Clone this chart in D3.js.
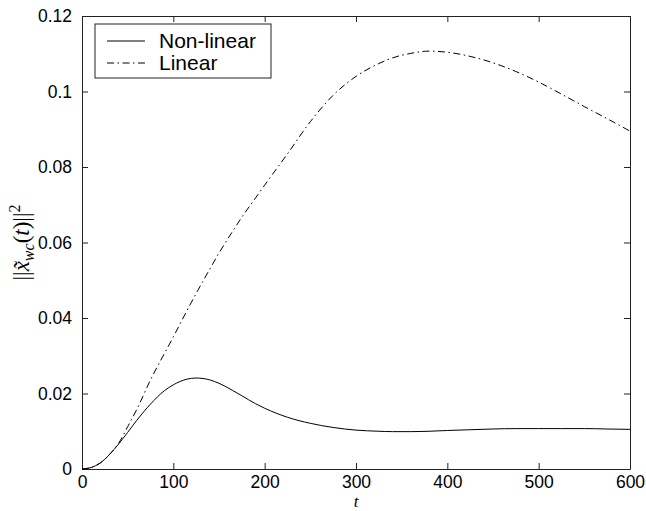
<!DOCTYPE html>
<html>
<head>
<meta charset="utf-8">
<script src="https://cdn.jsdelivr.net/npm/d3@7"></script>
<style>
  body { margin: 0; background: #fff; }
  svg { display: block; }
</style>
</head>
<body>
<script>
// time samples and the two response curves
var tValues = [0, 10, 20, 30, 40, 50, 60, 75, 90, 100, 115, 125, 140, 150, 165, 175, 190, 200, 225, 250, 275, 300, 325, 340, 360, 380, 400, 425, 450, 475, 500, 525, 550, 575, 600];
var nonLinear = [0, 0.0004, 0.0016, 0.0038, 0.0066, 0.0097, 0.0129, 0.0172, 0.0207, 0.0223, 0.0238, 0.0241, 0.0236, 0.0227, 0.0208, 0.0194, 0.0173, 0.0161, 0.0137, 0.0121, 0.0110, 0.0103, 0.0100, 0.0099, 0.0099, 0.0100, 0.0102, 0.0104, 0.0106, 0.0107, 0.0107, 0.0107, 0.0107, 0.0106, 0.0105];
var linear = [0, 0.0004, 0.0016, 0.0038, 0.0068, 0.0112, 0.0158, 0.0236, 0.0305, 0.0350, 0.0420, 0.0465, 0.0530, 0.0572, 0.0630, 0.0667, 0.0718, 0.0752, 0.0835, 0.0920, 0.0990, 0.1040, 0.1074, 0.1089, 0.1101, 0.1107, 0.1104, 0.1093, 0.1076, 0.1053, 0.1025, 0.0993, 0.0960, 0.0928, 0.0895];

var xTicks = [0, 100, 200, 300, 400, 500, 600];
var yTicks = [0, 0.02, 0.04, 0.06, 0.08, 0.1, 0.12];
var seriesNames = ["Non-linear", "Linear"];

var W = 646, H = 511;
var margin = { top: 16, right: 16, bottom: 42, left: 82 };
var width = W - margin.left - margin.right,
    height = H - margin.top - margin.bottom;

var svg = d3.select("body").append("svg")
    .attr("width", W)
    .attr("height", H);

var g = svg.append("g")
    .attr("transform", "translate(" + margin.left + "," + margin.top + ")");

var x = d3.scaleLinear().domain([0, 600]).range([0, width]);
var y = d3.scaleLinear().domain([0, 0.12]).range([height, 0]);

var fmt = function (d) { return String(+d.toFixed(2)); };
var tickFont = "17.5px 'Liberation Sans', Arial, sans-serif";

// axes with inward ticks, mirrored on top and right
function styleAxis(sel) {
    sel.select(".domain").attr("stroke", "#222").attr("stroke-width", 1);
    sel.selectAll(".tick line").attr("stroke", "#222");
    sel.selectAll("text").style("font", tickFont).attr("fill", "#000");
}

g.append("g")
    .attr("transform", "translate(0," + height + ")")
    .call(d3.axisBottom(x).tickValues(xTicks).tickSizeInner(-6).tickSizeOuter(0).tickPadding(6.5).tickFormat(fmt))
    .call(styleAxis);

g.append("g")
    .call(d3.axisLeft(y).tickValues(yTicks).tickSizeInner(-6).tickSizeOuter(0).tickPadding(10).tickFormat(fmt))
    .call(styleAxis);

g.append("g")
    .call(d3.axisTop(x).tickValues(xTicks).tickSizeInner(-6).tickSizeOuter(0).tickFormat(""))
    .call(styleAxis);

g.append("g")
    .attr("transform", "translate(" + width + ",0)")
    .call(d3.axisRight(y).tickValues(yTicks).tickSizeInner(-6).tickSizeOuter(0).tickFormat(""))
    .call(styleAxis);

// curves
var line = d3.line()
    .x(function (d) { return x(d[0]); })
    .y(function (d) { return y(d[1]); })
    .curve(d3.curveMonotoneX);

var dashes = [null, "7,3.5,1.5,3.5"];

[nonLinear, linear].forEach(function (vals, i) {
    g.append("path")
        .datum(tValues.map(function (t, j) { return [t, vals[j]]; }))
        .attr("fill", "none")
        .attr("stroke", "#000")
        .attr("stroke-width", 1)
        .attr("stroke-dasharray", dashes[i])
        .attr("d", line);
});

// legend
var legend = svg.append("g").attr("transform", "translate(95,24)");
legend.append("rect")
    .attr("width", 176)
    .attr("height", 54)
    .attr("fill", "#fff")
    .attr("stroke", "#222");

seriesNames.forEach(function (name, i) {
    var ly = 17 + i * 22;
    legend.append("line")
        .attr("x1", 12).attr("x2", 50)
        .attr("y1", ly).attr("y2", ly)
        .attr("stroke", "#000")
        .attr("stroke-dasharray", dashes[i]);
    legend.append("text")
        .attr("x", 64)
        .attr("y", ly + 7)
        .style("font", "21px 'Liberation Sans', Arial, sans-serif")
        .text(name);
});

// axis labels
svg.append("text")
    .attr("x", margin.left + x(300))
    .attr("y", 507)
    .attr("text-anchor", "middle")
    .style("font", "italic 17px 'Liberation Serif', 'Times New Roman', serif")
    .text("t");

var yl = svg.append("text")
    .attr("transform", "translate(29," + (margin.top + height / 2) + ") rotate(-90)")
    .attr("text-anchor", "middle")
    .style("font", "23px 'Liberation Serif', 'Times New Roman', serif");
yl.append("tspan").text("||");
yl.append("tspan").style("font-style", "italic").text("x\u0303");
yl.append("tspan").style("font-style", "italic").style("font-size", "16px").attr("dy", 5).text("wc");
yl.append("tspan").attr("dy", -5).text("(");
yl.append("tspan").style("font-style", "italic").text("t");
yl.append("tspan").text(")||");
yl.append("tspan").style("font-size", "16px").attr("dy", -9).text("2");
</script>
</body>
</html>
